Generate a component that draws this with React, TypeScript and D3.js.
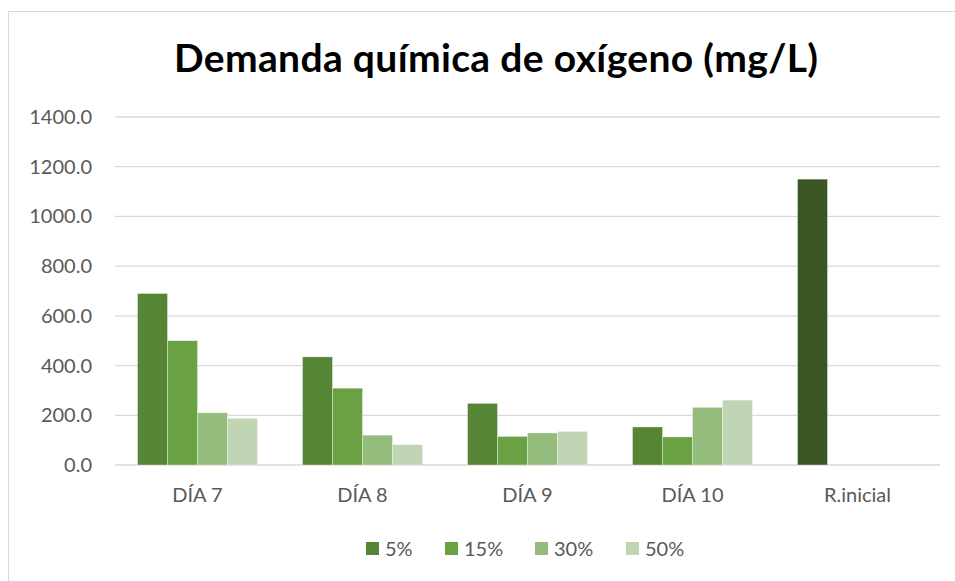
import * as React from "react";
import * as d3 from "d3";

const categories = ["DÍA 7", "DÍA 8", "DÍA 9", "DÍA 10", "R.inicial"];
const seriesNames = ["5%", "15%", "30%", "50%"];
const seriesColors = ["#568536", "#6aa143", "#94bc7c", "#bfd5b3"];
const inicialColor = "#3a5723";

// values per category, in series order (null = no bar)
const values: (number | null)[][] = [
  [690, 500, 210, 188],
  [435, 309, 120, 82],
  [248, 115, 129, 135],
  [153, 113, 232, 261],
  [1150, null, null, null],
];

const yTicks = [0, 200, 400, 600, 800, 1000, 1200, 1400];
const title = "Demanda química de oxígeno (mg/L)";

const W = 955;
const H = 581;
const font = "Lato, 'Open Sans', sans-serif";

export default function App() {
  const left = 115;
  const right = 940;
  const top = 117;
  const bottom = 465;

  // outer band per category, gap width 150% of a bar
  const x0 = d3.scaleBand<string>().domain(categories).range([left, right]).paddingInner(0).paddingOuter(0);
  const catW = x0.bandwidth();
  const barW = catW / (4 + 1.5);
  const x1 = d3.scaleBand<string>().domain(seriesNames).range([0, 4 * barW]);
  const groupX = (c: string) => (x0(c) ?? 0) + (catW - 4 * barW) / 2;
  const y = d3.scaleLinear().domain([0, 1400]).range([bottom, top]);

  const legendX = [366, 445, 535, 626];

  return (
    <svg width={W} height={H} style={{ position: "absolute", left: 0, top: 0, background: "#fff" }}>
      <rect x={8.5} y={11.5} width={W} height={H} fill="#fff" stroke="#d9d9d9" strokeWidth={1} />
      <text
        x={496}
        y={72}
        textAnchor="middle"
        fontFamily={font}
        fontWeight="bold"
        fontSize={39}
        textLength={644}
        lengthAdjust="spacing"
        fill="#000"
      >
        {title}
      </text>
      {yTicks.map((t) => (
        <g key={t}>
          <line x1={left} x2={right} y1={y(t)} y2={y(t)} stroke="#d9d9d9" strokeWidth={1.3} />
          <text x={92} y={y(t)} dy="0.35em" textAnchor="end" fontFamily={font} fontSize={20} fill="#595959">
            {d3.format(".1f")(t)}
          </text>
        </g>
      ))}
      {categories.map((c, ci) => (
        <g key={c}>
          {values[ci].map((v, si) =>
            v == null ? null : (
              <rect
                key={si}
                x={groupX(c) + (x1(seriesNames[si]) ?? 0)}
                y={y(v)}
                width={x1.bandwidth()}
                height={y(0) - y(v)}
                fill={ci === categories.length - 1 ? inicialColor : seriesColors[si]}
                stroke="#ffffff"
                strokeOpacity={0.5}
                strokeWidth={0.7}
              />
            )
          )}
          <text x={(x0(c) ?? 0) + catW / 2} y={495} dy="0.35em" textAnchor="middle" fontFamily={font} fontSize={20} fill="#595959">
            {c}
          </text>
        </g>
      ))}
      {seriesNames.map((s, i) => (
        <g key={s}>
          <rect x={legendX[i]} y={542} width={13} height={13} fill={seriesColors[i]} />
          <text x={legendX[i] + 19} y={549} dy="0.35em" fontFamily={font} fontSize={20} fill="#595959">
            {s}
          </text>
        </g>
      ))}
    </svg>
  );
}
